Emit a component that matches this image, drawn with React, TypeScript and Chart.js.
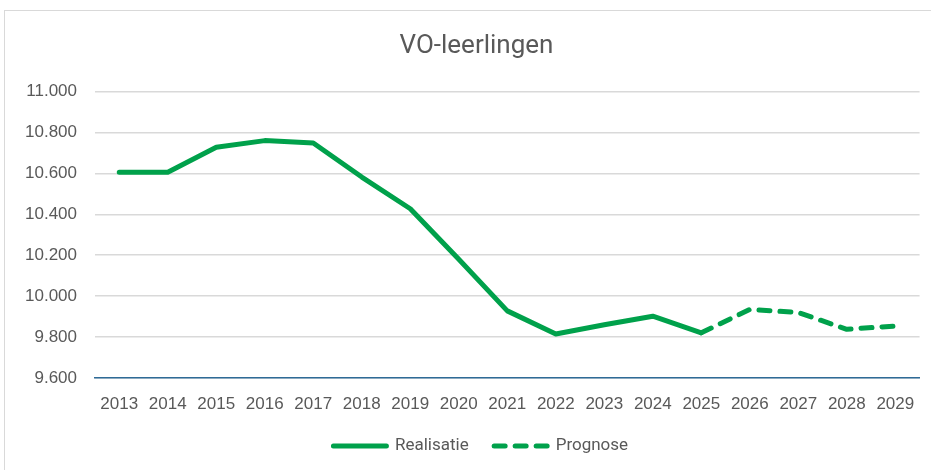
import React, { useEffect, useRef } from "react";
import { Chart, registerables } from "chart.js";

Chart.register(...registerables);

const title = "VO-leerlingen";
const years = ["2013","2014","2015","2016","2017","2018","2019","2020","2021","2022","2023","2024","2025","2026","2027","2028","2029"];
const realisatie: (number | null)[] = [10605, 10605, 10728, 10760, 10748, 10582, 10427, 10180, 9928, 9815, 9860, 9902, 9821, null, null, null, null];
const prognose: (number | null)[] = [null, null, null, null, null, null, null, null, null, null, null, null, 9821, 9935, 9920, 9838, 9854];
const yTicks = [9600, 9800, 10000, 10200, 10400, 10600, 10800, 11000];

const GREEN = "#00A14B";
const TEXT = "#595959";
const DASH = [11, 10];

function fmt(v: number): string {
  const s = Math.round(v).toString();
  return s.replace(/\B(?=(\d{3})+(?!\d))/g, ".");
}

const shiftYAxis = {
  id: "shiftYAxis",
  afterLayout(chart: any) {
    const y = chart.scales.y;
    if (y) y.left = 0;
  },
};

const customTitle = {
  id: "customTitle",
  afterDraw(chart: any) {
    const ctx = chart.ctx as CanvasRenderingContext2D;
    ctx.save();
    ctx.font = "26px Roboto";
    ctx.fillStyle = TEXT;
    ctx.textAlign = "center";
    ctx.textBaseline = "middle";
    ctx.fillText(title, 476.5, 46);
    ctx.restore();
  },
};

const customLegend = {
  id: "customLegend",
  afterDraw(chart: any) {
    const ctx = chart.ctx as CanvasRenderingContext2D;
    const items = chart.data.datasets.map((d: any) => ({ text: d.label, dash: d.borderDash || [], width: d.borderWidth, color: d.borderColor }));
    ctx.save();
    ctx.font = "17px Roboto";
    const lineLen = 58;
    const gapText = 6;
    const gapItem = 23;
    const widths = items.map((it: any) => lineLen + gapText + ctx.measureText(it.text).width);
    const total = widths.reduce((a: number, b: number) => a + b, 0) + gapItem * (items.length - 1);
    const center = 479.5;
    const cy = 446;
    let x = center - total / 2;
    items.forEach((it: any, i: number) => {
      ctx.beginPath();
      ctx.strokeStyle = it.color;
      ctx.lineWidth = it.width;
      ctx.lineCap = "round";
      ctx.setLineDash(it.dash);
      const r = it.width / 2;
      ctx.moveTo(x + r, cy);
      ctx.lineTo(x + lineLen - r, cy);
      ctx.stroke();
      ctx.setLineDash([]);
      ctx.fillStyle = TEXT;
      ctx.textBaseline = "middle";
      ctx.textAlign = "left";
      ctx.fillText(it.text, x + lineLen + gapText, cy);
      x += widths[i] + gapItem;
    });
    ctx.restore();
  },
};

export default function App() {
  const ref = useRef<HTMLCanvasElement | null>(null);
  useEffect(() => {
    document.body.style.margin = "0";
    document.body.style.overflow = "hidden";
    const ctx = ref.current!;
    const chart = new Chart(ctx, {
      type: "line",
      data: {
        labels: years,
        datasets: [
          {
            label: "Realisatie",
            data: realisatie,
            borderColor: GREEN,
            backgroundColor: GREEN,
            borderWidth: 5,
            pointRadius: 0,
            tension: 0,
            borderCapStyle: "round",
            borderJoinStyle: "round",
            spanGaps: false,
          },
          {
            label: "Prognose",
            data: prognose,
            borderColor: GREEN,
            backgroundColor: GREEN,
            borderWidth: 5,
            borderDash: DASH,
            pointRadius: 0,
            tension: 0,
            borderCapStyle: "round",
            borderJoinStyle: "round",
          },
        ],
      },
      plugins: [shiftYAxis, customTitle, customLegend],
      options: {
        animation: false,
        responsive: false,
        maintainAspectRatio: false,
        layout: { padding: { left: 32, right: 9.5, top: 91.5, bottom: 38.6 } },
        plugins: {
          title: { display: false },
          legend: { display: false },
          tooltip: { enabled: false },
        },
        scales: {
          x: {
            offset: true,
            grid: { display: false, drawTicks: false },
            border: { display: true, color: "#2F6B97", width: 1.5 },
            ticks: {
              color: TEXT,
              font: { family: "Liberation Sans", size: 17 },
              padding: 16.5,
              maxRotation: 0,
              autoSkip: false,
            },
          },
          y: {
            min: 9600,
            max: 11000,
            afterBuildTicks: (scale: any) => {
              scale.ticks = yTicks.map((v) => ({ value: v }));
            },
            afterFit: (scale: any) => {
              scale.width = 63;
            },
            grid: { color: "#D9D9D9", lineWidth: 1.5, drawTicks: false },
            border: { display: false },
            ticks: {
              color: TEXT,
              font: { family: "Liberation Sans", size: 17 },
              padding: 18,
              callback: (v: any) => fmt(Number(v)),
            },
          },
        },
      },
    });
    return () => chart.destroy();
  }, []);

  return (
    <div style={{ position: "fixed", left: 0, top: 0, width: 931, height: 470, overflow: "hidden", background: "#fff" }}>
      <div style={{ position: "absolute", left: 4, top: 10, width: 960, height: 500, border: "1px solid #D9D9D9", boxSizing: "border-box" }} />
      <canvas ref={ref} width={931} height={470} style={{ position: "absolute", left: 0, top: 0, width: 931, height: 470 }} />
    </div>
  );
}
